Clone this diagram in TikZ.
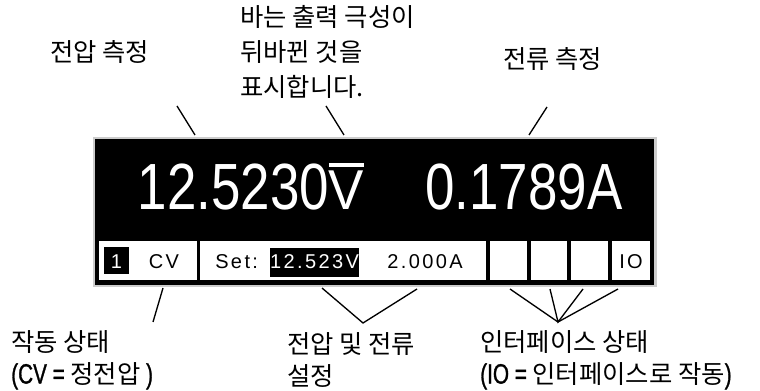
\documentclass[tikz,border=0pt]{standalone}
\usepackage{fontspec}
\usepackage{graphicx}
\setmainfont{Noto Sans CJK KR}
\newfontfamily\lcdfont[FakeStretch=0.81]{Liberation Sans}
\newfontfamily\smlfont[LetterSpace=12]{Liberation Sans}
\newfontfamily\nrwfont[FakeStretch=0.74,FakeBold=1]{Liberation Sans}
\newcommand\ovV{\setbox0=\hbox{\scalebox{1}[0.86]{V}}\rlap{\rule[32.3pt]{\wd0}{3pt}}\box0}
\newcommand\lat[1]{{\nrwfont\fontsize{21pt}{21pt}\selectfont #1}}
\begin{document}
\begin{tikzpicture}[x=0.75pt,y=-0.75pt,
  lbl/.style={inner sep=0,anchor=west,align=left,font=\fontsize{19pt}{26.25pt}\selectfont},
  lbltwo/.style={inner sep=0,anchor=west,align=left,font=\fontsize{19pt}{24pt}\selectfont},
  big/.style={inner sep=0,anchor=base,text=white,font=\lcdfont\fontsize{49pt}{49pt}\selectfont},
  small/.style={inner sep=0,anchor=base,font=\smlfont\fontsize{15pt}{15pt}\selectfont},
  cell/.style={fill=white},
  conn/.style={line width=1pt}]
\useasboundingbox (0,0) rectangle (760,391);
% display
\fill[gray!40] (93,137) rectangle (657,287);
\fill[black] (95,139) rectangle (654,285);
\fill[cell] (99,241) rectangle (197,280);
\fill[cell] (200,241) rectangle (486,280);
\fill[cell] (490,241) rectangle (527,280);
\fill[cell] (531,241) rectangle (567,280);
\fill[cell] (571,241) rectangle (608,280);
\fill[cell] (612,241) rectangle (650,280);
\fill[black] (104,247) rectangle (129,274);
\fill[black] (270,248) rectangle (359,277);
% big readings
\node[big] (volt) at (251,210) {12.5230\ovV};
\node[big] (amp) at (524,210) {0.1789A};
% small texts
\node[small,text=white] (ch) at (116.5,269) {1};
\node[small] (cv) at (164,269) {CV};
\node[small,anchor=base west] (set) at (215,269) {Set:};
\node[small,text=white] (setv) at (314.5,269) {12.523V};
\node[small] (seta) at (425,269) {2.000A};
\node[small] (io) at (631,269) {IO};
% labels
\node[lbl] (tvolt) at (50,52) {전압 측정};
\node[lbl] (tpol) at (240,52) {바는 출력 극성이\\뒤바뀐 것을\\표시합니다.};
\node[lbl] (tamp) at (503,59) {전류 측정};
\node[lbltwo] (top) at (11,360) {작동 상태\\\lat{(CV =} 정전압 \lat{)}};
\node[lbltwo] (tset) at (287,360) {전압 및 전류\\설정};
\node[lbltwo] (tif) at (480,360) {인터페이스 상태\\\lat{(IO =} 인터페이스로 작동\lat{)}};
% connector end points
\coordinate (a1) at (177,106); \coordinate (a2) at (195,135);
\coordinate (b1) at (326,106); \coordinate (b2) at (344,135);
\coordinate (c1) at (547,107); \coordinate (c2) at (529,135);
\coordinate (d1) at (163,288); \coordinate (d2) at (153,322);
\coordinate (e1) at (322,288); \coordinate (e2) at (363,323); \coordinate (e3) at (417,289);
\coordinate (f1) at (510,289); \coordinate (f2) at (550,289); \coordinate (f3) at (583,289); \coordinate (f4) at (618,289);
\coordinate (fc) at (558,322);
\draw[conn] (a1) -- (a2);
\draw[conn] (b1) -- (b2);
\draw[conn] (c1) -- (c2);
\draw[conn] (d1) -- (d2);
\draw[conn] (e1) -- (e2) -- (e3);
\draw[conn] (f1) -- (fc) -- (f4);
\draw[conn] (f2) -- (fc) -- (f3);
\end{tikzpicture}
\end{document}
